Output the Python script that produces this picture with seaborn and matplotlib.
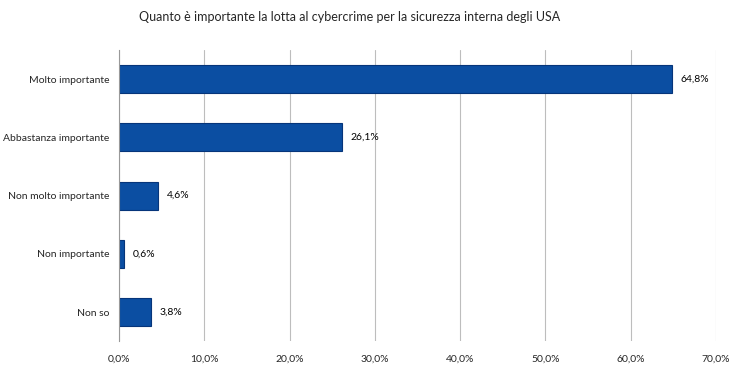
import numpy as np
import pandas as pd
import matplotlib
matplotlib.use("Agg")
import matplotlib.pyplot as plt
import seaborn as sns
from matplotlib.ticker import FixedLocator

categories = ["Molto importante", "Abbastanza importante", "Non molto importante",
              "Non importante", "Non so"]
values = [64.8, 26.1, 4.6, 0.6, 3.8]
x_ticks = [0, 10, 20, 30, 40, 50, 60, 70]
title = "Quanto è importante la lotta al cybercrime per la sicurezza interna degli USA"

sns.set_style("white")
plt.rcParams["font.family"] = ["Lato", "DejaVu Sans"]

df = pd.DataFrame({"cat": categories, "val": values})

fig = plt.figure(figsize=(7.4, 3.82), dpi=100)
ax = fig.add_axes([0.1608, 0.107, 0.8068, 0.762])

sns.barplot(data=df, x="val", y="cat", orient="h", color="#0b4ea2",
            edgecolor="#06357a", linewidth=0.8, width=0.48, saturation=1, ax=ax)

for i, v in enumerate(values):
    ax.text(v + 1.0, i, f"{v:.1f}%".replace(".", ","), va="center", ha="left",
            fontsize=7.5, color="#000000")

ax.set_xlim(0, 70)
ax.set_ylim(len(categories) - 0.5, -0.5)
ax.set_xticks(x_ticks)
ax.set_xticklabels([f"{t:.1f}%".replace(".", ",") for t in x_ticks], fontsize=7.5)
ax.tick_params(axis="x", length=0, pad=10)
ax.tick_params(axis="y", length=0, pad=7, labelsize=7.5)
ax.yaxis.set_minor_locator(FixedLocator(np.arange(-0.5, len(categories), 1)))
ax.tick_params(axis="y", which="minor", length=3, color="#999999", width=0.8)
ax.xaxis.grid(True, color="#bdbdbd", linewidth=0.8)
ax.set_axisbelow(True)
ax.set_xlabel("")
ax.set_ylabel("")
for s in ["top", "right", "bottom"]:
    ax.spines[s].set_visible(False)
ax.spines["left"].set_color("#999999")
ax.spines["left"].set_linewidth(0.8)

fig.text(0.473, 0.955, title, ha="center", va="center", fontsize=9)

fig.savefig("out.png", dpi=100)
